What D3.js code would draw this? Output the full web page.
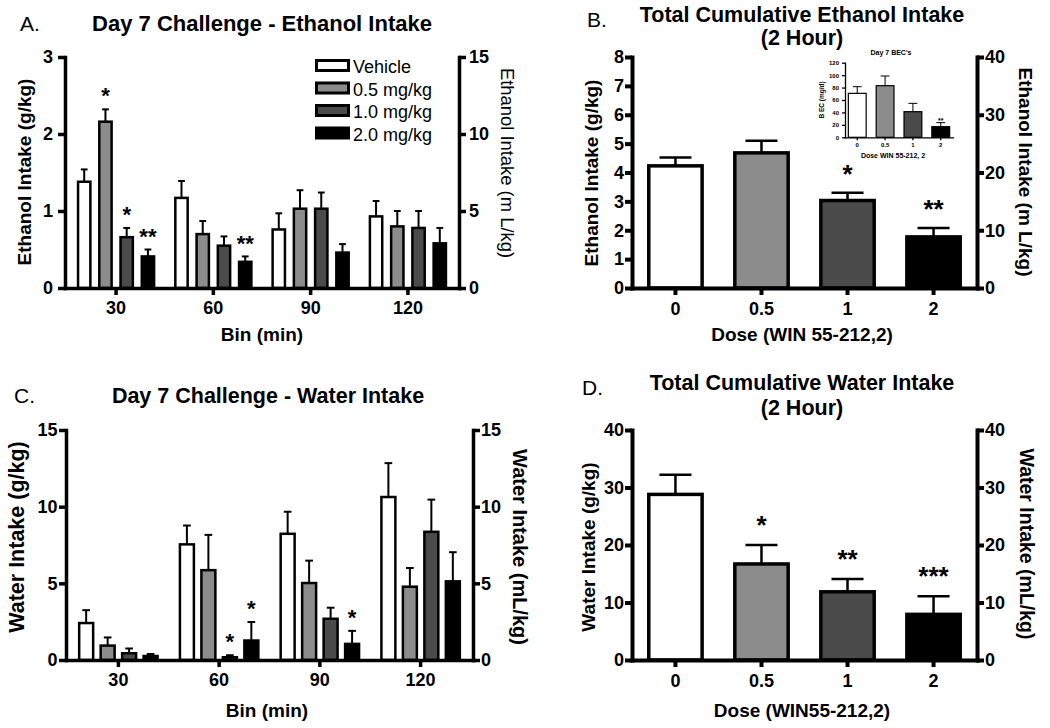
<!DOCTYPE html>
<html>
<head>
<meta charset="utf-8">
<script src="https://cdn.jsdelivr.net/npm/d3@7"></script>
<style>
  body { margin: 0; background: #fff; }
  svg { display: block; }
</style>
</head>
<body>
<svg width="1050" height="728"></svg>
<script>
// ---- data ----
var bins = ["30", "60", "90", "120"];
var doses = ["Vehicle", "0.5 mg/kg", "1.0 mg/kg", "2.0 mg/kg"];
var doseTicks = ["0", "0.5", "1", "2"];
var doseFills = ["#ffffff", "#8c8c8c", "#4b4b4b", "#000000"];

// A. ethanol intake per 30 min bin (g/kg); rows = bins, cols = doses
var ethanolBinMean = [[1.38, 2.16, 0.66, 0.41], [1.17, 0.70, 0.55, 0.34], [0.76, 1.03, 1.03, 0.46], [0.93, 0.80, 0.78, 0.58]];
var ethanolBinSem = [[0.16, 0.16, 0.12, 0.09], [0.22, 0.17, 0.12, 0.07], [0.21, 0.24, 0.21, 0.11], [0.20, 0.20, 0.22, 0.20]];
var ethanolBinStars = [["", "*", "*", "**"], ["", "", "", "**"], ["", "", "", ""], ["", "", "", ""]];

// B. total cumulative ethanol intake (g/kg)
var ethanolTotalMean = [4.23, 4.68, 3.03, 1.77];
var ethanolTotalSem = [0.29, 0.42, 0.27, 0.31];
var ethanolTotalStars = ["", "", "*", "**"];

// B inset. day 7 BEC (mg/dl)
var becMean = [70.7, 83.0, 41.2, 17.1];
var becSem = [10.7, 15.6, 13.4, 6.5];
var becStars = ["", "", "", "**"];

// C. water intake per bin (g/kg)
var waterBinMean = [[2.41, 0.94, 0.44, 0.26], [7.54, 5.86, 0.18, 1.27], [8.23, 5.02, 2.69, 1.05], [10.63, 4.78, 8.36, 5.13]];
var waterBinSem = [[0.84, 0.53, 0.31, 0.13], [1.23, 2.30, 0.13, 1.21], [1.44, 1.46, 0.72, 0.85], [2.21, 1.22, 2.10, 1.90]];
var waterBinStars = [["", "", "", ""], ["", "", "*", "*"], ["", "", "", "*"], ["", "", "", ""]];

// D. total cumulative water intake (g/kg)
var waterTotalMean = [28.8, 16.7, 11.86, 7.94];
var waterTotalSem = [3.4, 3.3, 2.24, 3.16];
var waterTotalStars = ["", "*", "**", "***"];

// ---- drawing ----
var svg = d3.select("svg");
var FONT = '"Liberation Sans", Arial, Helvetica, sans-serif';

function addText(x, y, str, size, weight, anchor, rotate) {
  var t = svg.append("text")
    .attr("x", x).attr("y", y)
    .attr("font-family", FONT)
    .attr("font-size", size)
    .attr("font-weight", weight)
    .attr("text-anchor", anchor || "middle")
    .attr("fill", "#000")
    .text(str);
  if (rotate) t.attr("transform", "rotate(" + rotate + "," + x + "," + y + ")").attr("dy", "0.3em");
  return t;
}

function styleAxis(g, sw, fs) {
  g.attr("font-family", FONT).attr("font-size", fs).attr("font-weight", "bold");
  g.select(".domain").attr("stroke", "#000").attr("stroke-width", sw).attr("stroke-linecap", "square");
  g.selectAll(".tick line").attr("stroke", "#000").attr("stroke-width", sw);
  g.selectAll(".tick text").attr("fill", "#000");
}

function scales(p) {
  var y = d3.scaleLinear().domain([0, p.yMax]).range([p.bottom, p.top]);
  var x = d3.scaleBand().domain(p.cats).range([p.left, p.right])
    .paddingInner(p.padInner).paddingOuter(p.padOuter);
  return { x: x, y: y };
}

function axes(p, s) {
  var gl = svg.append("g").attr("transform", "translate(" + p.left + ",0)")
    .call(d3.axisLeft(s.y).tickValues(p.yTicks).tickFormat(d3.format("d"))
      .tickSize(p.tick).tickSizeOuter(0).tickPadding(p.padL));
  styleAxis(gl, p.axisW, p.fs);
  if (p.rMax) {
    var yr = d3.scaleLinear().domain([0, p.rMax]).range([p.bottom, p.top]);
    var gr = svg.append("g").attr("transform", "translate(" + p.right + ",0)")
      .call(d3.axisRight(yr).tickValues(p.rTicks).tickFormat(d3.format("d"))
        .tickSize(p.tick).tickSizeOuter(0).tickPadding(p.padR));
    styleAxis(gr, p.axisW, p.fs);
  }
  var gb = svg.append("g").attr("transform", "translate(0," + p.bottom + ")")
    .call(d3.axisBottom(s.x).tickSize(p.tick).tickSizeOuter(0).tickPadding(p.padB));
  styleAxis(gb, p.axisW, p.fs);
}

function bars(items, y, p) {
  var g = svg.append("g");
  g.selectAll(".err").data(items).enter().append("line")
    .attr("x1", function(d) { return d.x + d.w / 2; })
    .attr("x2", function(d) { return d.x + d.w / 2; })
    .attr("y1", function(d) { return y(d.mean); })
    .attr("y2", function(d) { return y(d.mean + d.sem); })
    .attr("stroke", "#000").attr("stroke-width", p.errW);
  g.selectAll(".cap").data(items).enter().append("line")
    .attr("x1", function(d) { return d.x + d.w / 2 - d.w * p.cap / 2; })
    .attr("x2", function(d) { return d.x + d.w / 2 + d.w * p.cap / 2; })
    .attr("y1", function(d) { return y(d.mean + d.sem); })
    .attr("y2", function(d) { return y(d.mean + d.sem); })
    .attr("stroke", "#000").attr("stroke-width", p.errW);
  g.selectAll("rect").data(items).enter().append("rect")
    .attr("x", function(d) { return d.x; })
    .attr("y", function(d) { return y(d.mean); })
    .attr("width", function(d) { return d.w; })
    .attr("height", function(d) { return y(0) - y(d.mean); })
    .attr("fill", function(d) { return d.fill; })
    .attr("stroke", "#000").attr("stroke-width", p.barW);
  g.selectAll(".star").data(items.filter(function(d) { return d.star; })).enter().append("text")
    .attr("x", function(d) { return d.x + d.w / 2; })
    .attr("y", function(d) { return y(d.mean + d.sem) - p.starGap; })
    .attr("dy", "0.55em")
    .attr("text-anchor", "middle")
    .attr("font-family", FONT).attr("font-size", p.starSize).attr("font-weight", "bold")
    .text(function(d) { return d.star; });
}

function grouped(p, means, sems, stars) {
  var s = scales(p);
  var xs = d3.scaleBand().domain(d3.range(doses.length)).range([0, s.x.bandwidth()])
    .paddingInner(p.subInner).paddingOuter(p.subOuter);
  var items = [];
  p.cats.forEach(function(c, i) {
    doses.forEach(function(dz, j) {
      items.push({ x: s.x(c) + xs(j), w: xs.bandwidth(), mean: means[i][j], sem: sems[i][j], fill: doseFills[j], star: stars[i][j] });
    });
  });
  bars(items, s.y, p);
  axes(p, s);
  return s;
}

function simple(p, means, sems, stars) {
  var s = scales(p);
  var items = p.cats.map(function(c, i) {
    return { x: s.x(c), w: s.x.bandwidth(), mean: means[i], sem: sems[i], fill: doseFills[i], star: stars[i] };
  });
  bars(items, s.y, p);
  axes(p, s);
  return s;
}

// ---- Panel A ----
var pA = { left: 65, right: 459, top: 57, bottom: 288, cats: bins, yMax: 3, yTicks: [0, 1, 2, 3],
  rMax: 15, rTicks: [0, 5, 10, 15], padInner: 0, padOuter: 0.025, subInner: 0.42, subOuter: 0.5,
  axisW: 3.5, barW: 2.5, errW: 2, cap: 0.55, tick: 7, padL: 5, padR: 3, padB: 6, fs: 18,
  starGap: 18, starSize: 22 };
grouped(pA, ethanolBinMean, ethanolBinSem, ethanolBinStars);
addText(20, 31, "A.", 21, "normal", "start");
addText(262, 31, "Day 7 Challenge - Ethanol Intake", 22, "bold");
addText(25, 172, "Ethanol Intake (g/kg)", 19, "bold", "middle", -90);
addText(507, 163, "Ethanol Intake (m L/kg)", 18.4, "normal", "middle", 90);
addText(262, 341, "Bin (min)", 19, "bold");

// legend
var legend = svg.append("g");
doses.forEach(function(d, i) {
  var ly = 59 + i * 22.5;
  legend.append("rect").attr("x", 316.5).attr("y", ly + 1.5).attr("width", 32).attr("height", 10)
    .attr("fill", doseFills[i]).attr("stroke", "#000").attr("stroke-width", 3);
  legend.append("text").attr("x", 353).attr("y", ly + 14)
    .attr("font-family", FONT).attr("font-size", 18).text(d);
});

// ---- Panel B ----
var pB = { left: 632, right: 977, top: 57, bottom: 288, cats: doseTicks, yMax: 8, yTicks: d3.range(0, 9),
  rMax: 40, rTicks: [0, 10, 20, 30, 40], padInner: 0.38, padOuter: 0.195,
  axisW: 4, barW: 3.5, errW: 2.5, cap: 0.6, tick: 7, padL: 1, padR: 1, padB: 7, fs: 18,
  starGap: 24, starSize: 26 };
simple(pB, ethanolTotalMean, ethanolTotalSem, ethanolTotalStars);
addText(587, 27, "B.", 21, "normal", "start");
addText(802, 22, "Total Cumulative Ethanol Intake", 21.5, "bold");
addText(802, 45, "(2 Hour)", 21.5, "bold");
addText(592, 173, "Ethanol Intake (g/kg)", 19, "bold", "middle", -90);
addText(1025, 172, "Ethanol Intake (m L/kg)", 19, "bold", "middle", 90);
addText(802, 341, "Dose (WIN 55-212,2)", 19, "bold");

// inset
var pI = { left: 845, right: 953, top: 62.7, bottom: 137.3, cats: doseTicks, yMax: 120, yTicks: d3.range(0, 121, 20),
  padInner: 0.36, padOuter: 0.12, axisW: 1.3, barW: 1.2, errW: 1, cap: 0.5, tick: 3, padL: 3, padB: 2, fs: 6,
  starGap: 3, starSize: 7 };
simple(pI, becMean, becSem, becStars);
addText(891, 55, "Day 7 BEC's", 7, "bold");
addText(822, 100, "B EC (mg/d)", 6.5, "bold", "middle", -90);
addText(893, 158, "Dose WIN 55-212, 2", 7, "bold");

// ---- Panel C ----
var pC = { left: 66, right: 473, top: 430, bottom: 660, cats: bins, yMax: 15, yTicks: [0, 5, 10, 15],
  rMax: 15, rTicks: [0, 5, 10, 15], padInner: 0, padOuter: 0.02, subInner: 0.35, subOuter: 0.52,
  axisW: 3.5, barW: 2.5, errW: 2, cap: 0.55, tick: 7, padL: 1.5, padR: 1, padB: 6, fs: 18,
  starGap: 18, starSize: 22 };
grouped(pC, waterBinMean, waterBinSem, waterBinStars);
addText(14, 403, "C.", 21, "normal", "start");
addText(268, 403, "Day 7 Challenge - Water Intake", 21.5, "bold");
addText(18, 537, "Water Intake (g/kg)", 21.5, "bold", "middle", -90);
addText(519, 547, "Water Intake (mL/kg)", 20, "bold", "middle", 90);
addText(267, 717, "Bin (min)", 19, "bold");

// ---- Panel D ----
var pD = { left: 632, right: 977, top: 430, bottom: 660, cats: doseTicks, yMax: 40, yTicks: [0, 10, 20, 30, 40],
  rMax: 40, rTicks: [0, 10, 20, 30, 40], padInner: 0.38, padOuter: 0.195,
  axisW: 4, barW: 3.5, errW: 2.5, cap: 0.6, tick: 7, padL: 1, padR: 1, padB: 7, fs: 18,
  starGap: 25, starSize: 26 };
simple(pD, waterTotalMean, waterTotalSem, waterTotalStars);
addText(582, 395, "D.", 21, "normal", "start");
addText(802, 390, "Total Cumulative Water Intake", 21.5, "bold");
addText(802, 415, "(2 Hour)", 21.5, "bold");
addText(589, 547, "Water Intake (g/kg)", 19, "bold", "middle", -90);
addText(1026, 544, "Water Intake (mL/kg)", 19.5, "bold", "middle", 90);
addText(802, 717, "Dose (WIN55-212,2)", 19, "bold");
</script>
</body>
</html>
